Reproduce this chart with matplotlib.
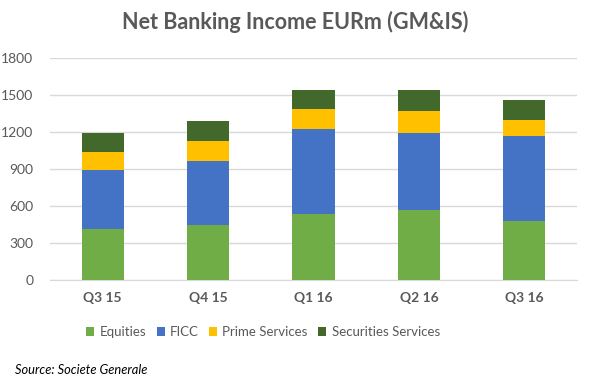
import matplotlib
matplotlib.use("Agg")
import matplotlib.pyplot as plt
import numpy as np

categories = ["Q3 15", "Q4 15", "Q1 16", "Q2 16", "Q3 16"]
equities = [414, 447, 539, 568, 479]
ficc = [479, 519, 687, 626, 690]
prime = [147, 163, 163, 178, 130]
securities = [154, 162, 154, 171, 163]
series_names = ["Equities", "FICC", "Prime Services", "Securities Services"]
colors = ["#70AD47", "#4472C4", "#FFC000", "#43682B"]
yticks = [0, 300, 600, 900, 1200, 1500, 1800]

plt.rcParams['font.family'] = ['Lato', 'DejaVu Sans']
fig = plt.figure(figsize=(5.91, 3.83), dpi=100)
ax = fig.add_axes([50/591, 1-280/383, 527/591, 222/383])

x = np.arange(len(categories))
bottom = np.zeros(len(categories))
handles = []
for vals, name, c in zip([equities, ficc, prime, securities], series_names, colors):
    b = ax.bar(x, vals, width=0.4, bottom=bottom, color=c, label=name, zorder=3)
    handles.append(b)
    bottom += np.array(vals)

ax.set_xlim(-0.5, 4.5)
ax.set_ylim(0, 1800)
ax.set_yticks(yticks)
ax.set_yticklabels([str(v) for v in yticks], color="#595959", fontsize=10)
ax.set_xticks(x)
ax.set_xticklabels(categories, color="#595959", fontsize=10, fontweight="bold")
ax.yaxis.grid(True, color="#D9D9D9", linewidth=1, zorder=0)
for s in ["top", "right", "left"]:
    ax.spines[s].set_visible(False)
ax.spines["bottom"].set_color("#D9D9D9")
ax.tick_params(axis="both", length=0)
ax.tick_params(axis="y", pad=12)
ax.tick_params(axis="x", pad=9)

fig.text(295/591, 1-22/383, "Net Banking Income EURm (GM&IS)", ha="center", va="center",
         fontsize=15.5, fontweight="bold", color="#595959")
fig.legend(handles=handles, labels=series_names, loc="center", bbox_to_anchor=(263/591, 1-332/383),
           ncol=4, frameon=False, fontsize=9.5, handlelength=0.6, handleheight=0.6,
           handletextpad=0.4, columnspacing=0.8, labelcolor="#595959")
fig.text(15/591, 1-370/383, "Source: Societe Generale", ha="left", va="center",
         fontsize=9.3, style="italic", color="black")

fig.savefig("out.png", dpi=100)
